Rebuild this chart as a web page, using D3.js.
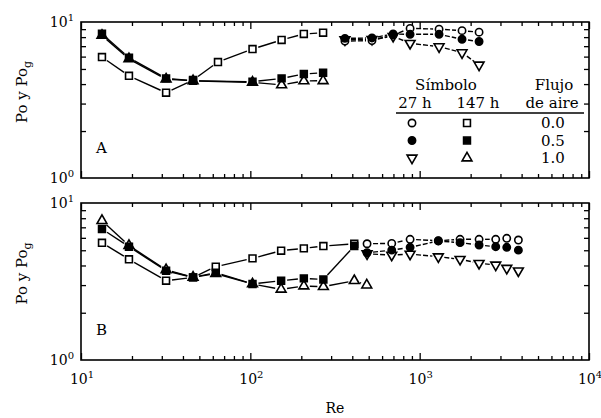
<!DOCTYPE html>
<html>
<head>
<meta charset="utf-8">
<script src="https://d3js.org/d3.v7.min.js"></script>
<style>
  body { margin: 0; background: #fff; }
  svg text { font-family: 'DejaVu Serif', serif; fill: #000; }
</style>
</head>
<body>
<svg width="601" height="418"></svg>
<script>
// ---- data (Re, Po) ----
// panel A, 147 h
const reA147 = [13.3, 19.2, 31.8, 45.9, 64.4, 103, 153, 207, 269];
const poA147_00 = [5.96, 4.52, 3.52, 4.25, 5.54, 6.71, 7.67, 8.38, 8.54];
const reA147b = [13.3, 19.2, 31.8, 45.9, 103, 153, 207, 269];
const poA147_05 = [8.4, 5.9, 4.35, 4.2, 4.14, 4.35, 4.64, 4.73];
const poA147_10 = [8.2, 5.8, 4.3, 4.2, 4.1, 3.95, 4.19, 4.2];
// panel A, 27 h
const reA27 = [362, 523, 697, 878, 1302, 1779, 2243];
const poA27_00 = [7.55, 7.6, 8.25, 9.1, 9.0, 8.8, 8.6];
const poA27_05 = [7.85, 7.9, 8.38, 8.34, 8.34, 7.75, 7.5];
const poA27_10 = [7.7, 7.75, 8.1, 7.3, 6.95, 6.36, 5.3];
// panel B, 147 h
const reB147 = [13.3, 19.2, 31.8, 45.9, 62.5, 103, 152, 207, 270, 411];
const poB147_00 = [5.58, 4.38, 3.2, 3.36, 3.93, 4.44, 4.97, 5.14, 5.32, 5.5];
const poB147_05 = [6.83, 5.27, 3.7, 3.36, 3.6, 3.05, 3.2, 3.31, 3.26, 5.32];
const reB147c = [13.3, 19.2, 31.8, 45.9, 62.5, 103, 152, 207, 270, 411, 487];
const poB147_10 = [7.72, 5.35, 3.75, 3.36, 3.55, 3.05, 2.82, 2.96, 2.93, 3.2, 3.0];
// panel B, 27 h
const reB27 = [489, 684, 878, 1289, 1732, 2243, 2813, 3268, 3828];
const poB27_00 = [5.5, 5.53, 5.87, 5.75, 5.87, 5.87, 5.87, 5.96, 5.81];
const poB27_05 = [4.82, 5.01, 5.22, 5.73, 5.59, 5.4, 5.27, 5.22, 5.01];
const poB27_10 = [4.75, 4.66, 4.73, 4.55, 4.38, 4.13, 4.03, 3.84, 3.7];

const legendFlow = ["0.0", "0.5", "1.0"];
const legendSym27 = ["circOpen", "circFill", "triDown"];
const legendSym147 = ["sqOpen", "sqFill", "triUp"];

const svg = d3.select("svg");
const x = d3.scaleLog().domain([10, 10000]).range([81, 589]);

// series listed in drawing order (later ones sit on top)
const panels = [
  { top: 22, bottom: 178, label: "A", series: [
    [reA147b, poA147_10, "triUp"], [reA147, poA147_00, "sqOpen"], [reA147b, poA147_05, "sqFill"],
    [reA27, poA27_10, "triDown"], [reA27, poA27_00, "circOpen"], [reA27, poA27_05, "circFill"]] },
  { top: 203, bottom: 360, label: "B", series: [
    [reB147c, poB147_10, "triUp"], [reB147, poB147_00, "sqOpen"], [reB147, poB147_05, "sqFill"],
    [reB27, poB27_10, "triDown"], [reB27, poB27_00, "circOpen"], [reB27, poB27_05, "circFill"]] }
];

const majorX = [10, 100, 1000, 10000];
const minorX = [];
[10, 100, 1000].forEach(d => { for (let k = 2; k < 10; k++) minorX.push(d * k); });
const minorY = d3.range(2, 10);

function marker(g, type, px, py) {
  let sym, size, rot = 0, filled = false;
  if (type === "circOpen" || type === "circFill") { sym = d3.symbolCircle; size = 42; filled = type === "circFill"; }
  if (type === "sqOpen" || type === "sqFill") { sym = d3.symbolSquare; size = 47; filled = type === "sqFill"; }
  if (type === "triUp") { sym = d3.symbolTriangle; size = 42; }
  if (type === "triDown") { sym = d3.symbolTriangle; size = 42; rot = 180; }
  g.append("path")
    .attr("d", d3.symbol().type(sym).size(size)())
    .attr("transform", "translate(" + px + "," + py + ") rotate(" + rot + ")")
    .attr("fill", filled ? "#000" : "#fff")
    .attr("stroke", "#000")
    .attr("stroke-width", 1.6);
}

panels.forEach(p => {
  const y = d3.scaleLog().domain([1, 10]).range([p.bottom, p.top]);
  const g = svg.append("g");

  // frame
  g.append("rect").attr("x", x(10)).attr("y", p.top)
    .attr("width", x(10000) - x(10)).attr("height", p.bottom - p.top)
    .attr("fill", "none").attr("stroke", "#000").attr("stroke-width", 1.6);

  // ticks, inward on all four sides
  const ax = [
    [d3.axisBottom(x), "translate(0," + p.bottom + ")"],
    [d3.axisTop(x), "translate(0," + p.top + ")"]
  ];
  ax.forEach(a => {
    g.append("g").attr("transform", a[1])
      .call(a[0].tickValues(majorX).tickSize(-7).tickFormat("")).call(s => s.select(".domain").remove());
    g.append("g").attr("transform", a[1])
      .call(a[0].tickValues(minorX).tickSize(-4).tickFormat("")).call(s => s.select(".domain").remove());
  });
  g.append("g").attr("transform", "translate(" + x(10) + ",0)")
    .call(d3.axisLeft(y).tickValues(minorY).tickSize(-5).tickFormat("")).call(s => s.select(".domain").remove());
  g.append("g").attr("transform", "translate(" + x(10000) + ",0)")
    .call(d3.axisRight(y).tickValues(minorY).tickSize(-5).tickFormat("")).call(s => s.select(".domain").remove());
  g.selectAll(".tick line").attr("stroke-width", 1.3);

  // y labels 10^0 and 10^1
  [[1, "0"], [10, "1"]].forEach(t => {
    const tx = g.append("text").attr("x", x(10) - 7).attr("y", y(t[0]) + 5)
      .attr("text-anchor", "end").style("font-size", "14px");
    tx.append("tspan").text("10");
    tx.append("tspan").attr("dy", -6).style("font-size", "10px").text(t[1]);
  });

  // y title
  const ty = g.append("text")
    .attr("transform", "translate(27," + ((p.top + p.bottom) / 2 - 8) + ") rotate(-90)")
    .attr("text-anchor", "middle").style("font-size", "15px");
  ty.append("tspan").text("Po  y  Po");
  ty.append("tspan").attr("dy", 4).style("font-size", "11px").text("g");

  g.append("text").attr("x", 96).attr("y", p.bottom - 25).style("font-size", "15px").text(p.label);

  // lines: segments stop short of the markers
  p.series.forEach(s => {
    const pts = s[0].map((r, i) => [x(r), y(s[1][i])]);
    for (let i = 0; i < pts.length - 1; i++) {
      const [x0, y0] = pts[i], [x1, y1] = pts[i + 1];
      const dx = x1 - x0, dy = y1 - y0, len = Math.hypot(dx, dy);
      if (len < 13) continue;
      const gap = 6;
      g.append("line")
        .attr("x1", x0 + dx / len * gap).attr("y1", y0 + dy / len * gap)
        .attr("x2", x1 - dx / len * gap).attr("y2", y1 - dy / len * gap)
        .attr("stroke", "#000").attr("stroke-width", 1.4)
        .attr("stroke-dasharray", s[2].startsWith("circ") || s[2] === "triDown" ? "5,2" : null);
    }
  });
  p.series.forEach(s => {
    s[0].forEach((r, i) => marker(g, s[2], x(r), y(s[1][i])));
  });
});

// x labels
majorX.forEach((d, i) => {
  const t = svg.append("text").attr("x", x(d) + 1).attr("y", 384)
    .attr("text-anchor", "middle").style("font-size", "14px");
  t.append("tspan").text("10");
  t.append("tspan").attr("dy", -6).style("font-size", "10px").text(String(i + 1));
});
svg.append("text").attr("x", (x(10) + x(10000)) / 2).attr("y", 413)
  .attr("text-anchor", "middle").style("font-size", "14px").text("Re");

// legend inside panel A
const lg = svg.append("g").style("font-size", "15px");
lg.append("text").attr("x", 446).attr("y", 90).attr("text-anchor", "middle").text("Símbolo");
lg.append("text").attr("x", 554).attr("y", 90).attr("text-anchor", "middle").text("Flujo");
lg.append("text").attr("x", 415).attr("y", 108).attr("text-anchor", "middle").text("27 h");
lg.append("text").attr("x", 478).attr("y", 108).attr("text-anchor", "middle").text("147 h");
lg.append("text").attr("x", 552).attr("y", 108).attr("text-anchor", "middle").text("de aire");
lg.append("line").attr("x1", 396).attr("x2", 584).attr("y1", 113).attr("y2", 113)
  .attr("stroke", "#000").attr("stroke-width", 1.6);
legendFlow.forEach((f, i) => {
  const yy = 123 + i * 17.5;
  marker(lg, legendSym27[i], 412, yy);
  marker(lg, legendSym147[i], 467, yy);
  lg.append("text").attr("x", 553).attr("y", yy + 5).attr("text-anchor", "middle").text(f);
});
</script>
</body>
</html>
